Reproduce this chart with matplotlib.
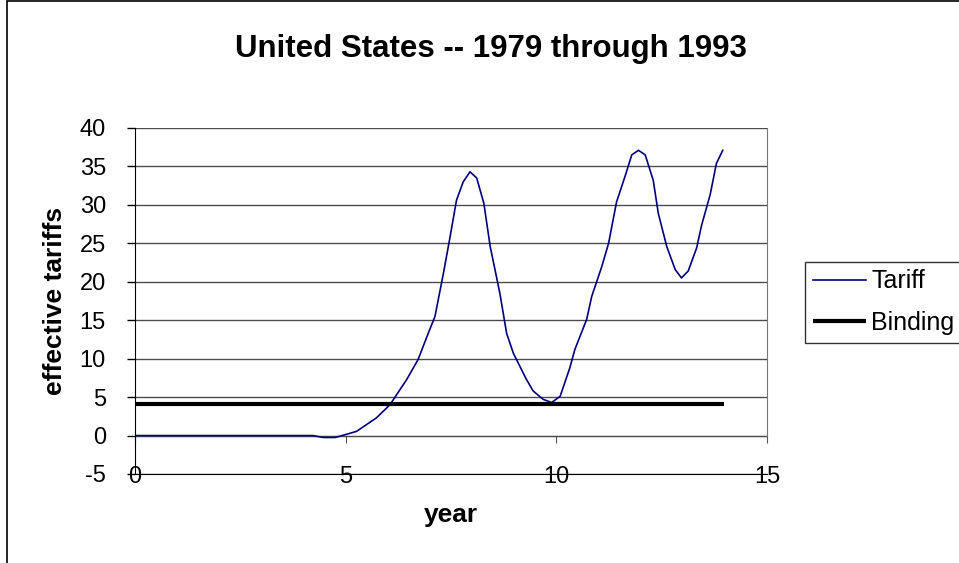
import matplotlib
matplotlib.use('Agg')
import matplotlib.pyplot as plt
from matplotlib.patches import Rectangle

plt.rcParams['font.family'] = ['Liberation Sans', 'DejaVu Sans']
plt.rcParams['axes.unicode_minus'] = False

# values
year = [0, 1, 2, 3, 4, 4.22, 4.47, 4.75, 4.98, 5.26, 5.73, 6.05, 6.45, 6.72, 6.96,
        7.12, 7.32, 7.48, 7.63, 7.79, 7.95, 8.11, 8.28, 8.43, 8.66, 8.82, 8.98,
        9.29, 9.45, 9.69, 9.89, 10.09, 10.32, 10.44, 10.72, 10.84, 11.08, 11.24,
        11.43, 11.63, 11.79, 11.95, 12.11, 12.30, 12.42, 12.62, 12.82, 12.97,
        13.13, 13.33, 13.45, 13.65, 13.80, 13.95]
tariff = [0, 0, 0, 0, 0, 0, -0.25, -0.25, 0.1, 0.55, 2.3, 4.0, 7.3, 9.9, 13.3,
          15.5, 21.1, 25.9, 30.6, 33.0, 34.3, 33.5, 30.2, 24.6, 18.5, 13.3, 10.7,
          7.3, 5.8, 4.7, 4.3, 5.1, 8.8, 11.2, 15.1, 18.1, 22.0, 25.0,
          30.4, 33.7, 36.5, 37.1, 36.5, 33.2, 28.9, 24.6, 21.6, 20.5,
          21.4, 24.4, 27.4, 31.3, 35.4, 37.1]
binding_x = [0, 13.97]
binding_y = [4.15, 4.15]

fig = plt.figure(figsize=(9.59, 5.63), dpi=100)
ax = fig.add_axes([135/959, 1 - 474/563, (767 - 135)/959, (474 - 128)/563])

ax.plot(year, tariff, color='#000080', lw=1.2, label='Tariff')
ax.plot(binding_x, binding_y, color='black', lw=3, solid_capstyle='butt', label='Binding')

ax.set_xlim(0, 15)
ax.set_ylim(-5, 40)
ax.set_xticks([0, 5, 10, 15])
ax.set_yticks(range(-5, 45, 5))
ax.grid(axis='y', color='#4d4d4d', lw=1)
ax.set_axisbelow(True)

ax.spines['top'].set_visible(False)
ax.spines['right'].set_color('#777777')
ax.spines['right'].set_bounds(0, 40)
ax.spines['left'].set_color('black')
ax.spines['bottom'].set_color('black')

ax.tick_params(axis='x', length=0, pad=-6, labelsize=17)
ax.tick_params(axis='y', length=6, width=1, direction='out', labelsize=17, pad=15)

# small ticks along the zero line
sec = ax.secondary_xaxis(0, transform=ax.transData)
sec.set_xticks([0, 5, 10, 15])
sec.tick_params(length=5, color='#555555', labelbottom=False)
sec.spines['bottom'].set_color('#555555')

ax.set_xlabel('year', fontsize=19, fontweight='bold')
ax.xaxis.set_label_coords(0.5, -(503 - 474) / 346)
ax.set_ylabel('effective tariffs', fontsize=19, fontweight='bold')
ax.yaxis.set_label_coords(-(135 - 67) / 632, 0.5)

fig.text(491/959, 1 - 49/563, 'United States -- 1979 through 1993',
         fontsize=22.5, fontweight='bold', ha='center', va='center')

leg = ax.legend(loc='upper left', bbox_to_anchor=(805/959, 1 - 262/563),
                bbox_transform=fig.transFigure, fontsize=18, frameon=True,
                fancybox=False, edgecolor='black', handlelength=2.15,
                handletextpad=0.2, borderaxespad=0, borderpad=0.3, labelspacing=0.7)
leg.get_frame().set_linewidth(1)

fig.patches.append(Rectangle((7/959, -0.1), 2, 1.1 - 1.5/563, transform=fig.transFigure,
                             fill=False, edgecolor='black', lw=1.2))

fig.savefig('out.png', dpi=100)
